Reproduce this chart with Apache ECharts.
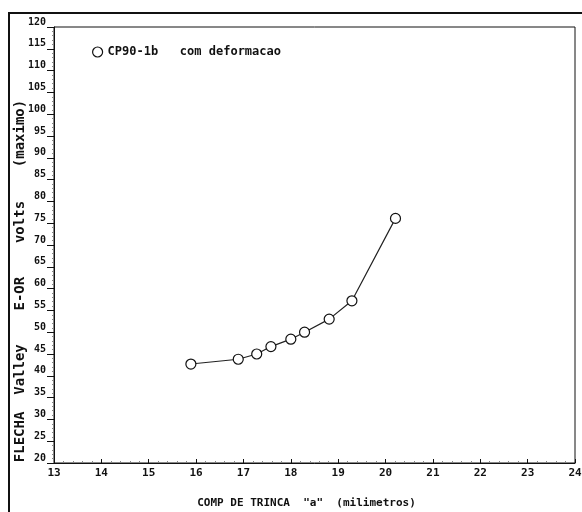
<!DOCTYPE html>
<html>
<head>
<meta charset="utf-8">
<title>CP90-1b</title>
<script type="text/javascript" src="https://cdn.jsdelivr.net/npm/echarts@6/dist/echarts.min.js"></script>
<style>
html, body { margin: 0; padding: 0; background: #fff; }
#charts { width: 582px; height: 512px; }
</style>
</head>
<body>
<div id="charts"></div>
<script type="text/javascript">
// valores
var compTrinca = [15.89, 16.89, 17.28, 17.58, 18.0, 18.29, 18.81, 19.29, 20.21];
var flecha = [42.7, 43.8, 45.0, 46.7, 48.4, 50.0, 53.0, 57.2, 76.1];
var serieNome = 'CP90-1b   com deformacao';

var pontos = [];
for (var i = 0; i < compTrinca.length; i++) {
    pontos.push([compTrinca[i], flecha[i]]);
}

var fonte = 'DejaVu Sans Mono';
var dom = document.getElementById("charts");
var myChart = echarts.init(dom);
var option = {
    backgroundColor: '#fff',
    animation: false,
    grid: {
        left: 54,
        right: 7,
        top: 27,
        bottom: 49,
        outerBoundsMode: 'none',
        show: true,
        borderColor: '#111',
        borderWidth: 1
    },
    legend: {
        left: 87,
        top: 41,
        icon: 'circle',
        itemWidth: 10,
        itemHeight: 10,
        itemGap: 6,
        itemStyle: { color: '#fff', borderColor: '#111', borderWidth: 1.2 },
        textStyle: { fontFamily: fonte, fontWeight: 'bold', fontSize: 12, color: '#111' },
        data: [serieNome]
    },
    graphic: [
        { type: 'line', shape: { x1: 9, y1: 12, x2: 9, y2: 512 }, style: { stroke: '#111', lineWidth: 2 } },
        { type: 'line', shape: { x1: 8, y1: 13, x2: 582, y2: 13 }, style: { stroke: '#111', lineWidth: 2 } }
    ],
    xAxis: {
        type: 'value',
        min: 13,
        max: 24,
        interval: 1,
        name: 'COMP DE TRINCA  "a"  (milimetros)',
        nameLocation: 'middle',
        nameGap: 35,
        nameTextStyle: { fontFamily: fonte, fontWeight: 'bold', fontSize: 11, color: '#111', padding: [0, 16, 0, 0] },
        axisLine: { lineStyle: { color: '#111', width: 1 } },
        axisTick: { inside: true, length: 4, lineStyle: { color: '#111' } },
        minorTick: { show: true, splitNumber: 5, length: 2, lineStyle: { color: '#888' } },
        axisLabel: { fontFamily: fonte, fontWeight: 'bold', fontSize: 11, color: '#111', margin: 5 },
        splitLine: { show: false }
    },
    yAxis: {
        type: 'value',
        min: 20,
        max: 120,
        interval: 5,
        name: 'FLECHA  Valley    E-OR    volts    (maximo)',
        nameLocation: 'middle',
        nameMoveOverlap: false,
        nameGap: 27,
        nameTextStyle: { fontFamily: fonte, fontWeight: 'bold', fontSize: 14, color: '#111', padding: [0, 72, 0, 0] },
        axisLine: { lineStyle: { color: '#111', width: 1 } },
        axisTick: { length: 7, lineStyle: { color: '#111' } },
        minorTick: { show: true, splitNumber: 5, length: 2, lineStyle: { color: '#888' } },
        axisLabel: { fontFamily: fonte, fontWeight: 'bold', fontSize: 10, color: '#111', margin: 8, verticalAlign: 'bottom' },
        splitLine: { show: false }
    },
    series: [
        {
            name: serieNome,
            type: 'line',
            data: pontos,
            symbol: 'circle',
            symbolSize: 10,
            itemStyle: { color: '#fff', borderColor: '#111', borderWidth: 1.2 },
            lineStyle: { color: '#222', width: 1.2 }
        }
    ]
};
myChart.setOption(option, true);
</script>
</body>
</html>
